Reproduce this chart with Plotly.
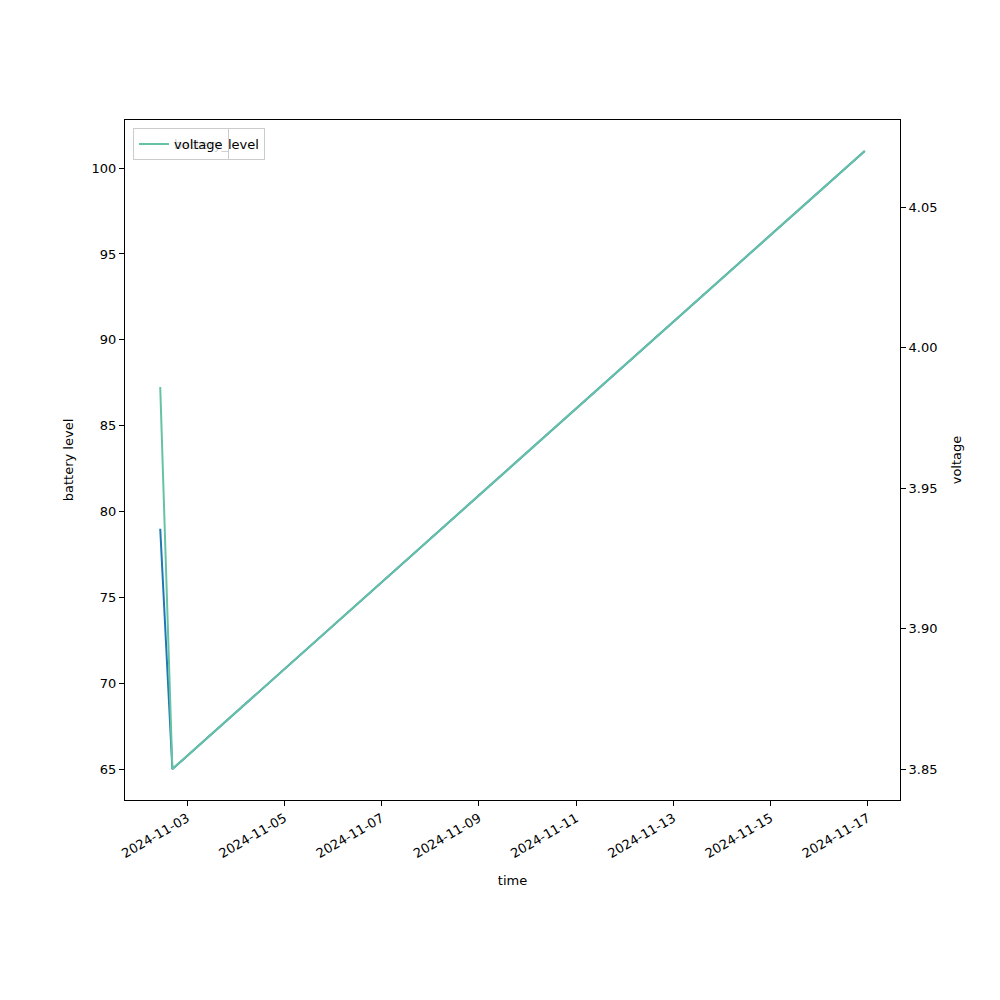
import pandas as pd
import plotly.graph_objects as go

time = ["2024-11-02 10:40", "2024-11-02 16:40", "2024-11-16 22:30"]
battery_level = [79, 65, 101]
voltage = [3.986, 3.85, 4.07]
tick_start = "2024-11-03"

t = pd.to_datetime(time)
span = t.max() - t.min()
xr = [t.min() - 0.05 * span, t.max() + 0.05 * span]
bspan = max(battery_level) - min(battery_level)
yr = [min(battery_level) - 0.05 * bspan, max(battery_level) + 0.05 * bspan]
vspan = max(voltage) - min(voltage)
y2r = [min(voltage) - 0.05 * vspan, max(voltage) + 0.05 * vspan]

font = dict(family="DejaVu Sans", size=13, color="black")

fig = go.Figure()
fig.add_trace(go.Scatter(x=t, y=battery_level, mode="lines", name="battery_level",
                         line=dict(color="#1f77b4", width=2), legend="legend",
                         showlegend=True))
fig.add_trace(go.Scatter(x=t, y=voltage, mode="lines", name="voltage", yaxis="y2",
                         line=dict(color="#66c2a5", width=2), legend="legend2",
                         showlegend=True))

axis_common = dict(showgrid=False, zeroline=False, showline=True, linecolor="black",
                   linewidth=1, ticks="outside", ticklen=5, tickcolor="black",
                   tickfont=font)

legend_common = dict(x=0.0103, y=0.988, xanchor="left", yanchor="top",
                     bordercolor="#cccccc", borderwidth=1,
                     bgcolor="rgba(255,255,255,0.8)", font=font,
                     tracegroupgap=0)

fig.update_layout(
    width=1000, height=1000,
    margin=dict(l=117, r=108, t=112, b=208),
    paper_bgcolor="white", plot_bgcolor="white",
    font=font,
    showlegend=True,
    xaxis=dict(range=xr, type="date", tick0=tick_start, dtick=2 * 86400000,
               tickformat="%Y-%m-%d", tickangle=-30, mirror=True,
               title=dict(text="time", font=font), **axis_common),
    yaxis=dict(range=yr, dtick=5, title=dict(text="battery level", font=font),
               **axis_common),
    yaxis2=dict(range=y2r, dtick=0.05, tickformat=".2f", overlaying="y", side="right",
                title=dict(text="voltage", font=font), **axis_common),
    legend=legend_common,
    legend2=legend_common,
)

fig.write_html("out.html")
